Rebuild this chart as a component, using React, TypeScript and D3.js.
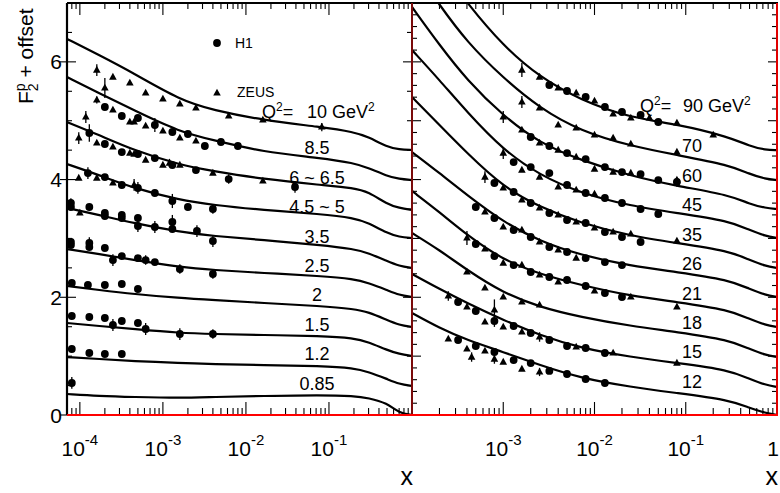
import React from "react";
import * as d3 from "d3";

const FONT = "'Liberation Sans', Arial, Helvetica, sans-serif";

// ---------------- data ----------------
// Left panel: model curves (F2 + offset) sampled at these x
const leftCurveX = [7e-5, 1.7e-4, 4.4e-4, 1.6e-3, 4e-3, 0.016, 0.08, 0.2, 0.3, 0.5, 0.7, 1];
const leftCurveY = [
  [6.39, 6.116, 5.81, 5.352, 5.18, 5.01, 4.893, 4.808, 4.723, 4.553, 4.511, 4.502],
  [5.742, 5.471, 5.182, 4.808, 4.672, 4.468, 4.366, 4.281, 4.196, 4.06, 4.009, 3.992],
  [4.978, 4.757, 4.502, 4.247, 4.145, 4.009, 3.908, 3.857, 3.789, 3.585, 3.517, 3.483],
  [4.264, 4.077, 3.857, 3.653, 3.568, 3.483, 3.415, 3.347, 3.262, 3.092, 3.024, 3.007],
  [3.517, 3.398, 3.262, 3.109, 3.041, 2.973, 2.888, 2.82, 2.752, 2.616, 2.531, 2.497],
  [2.82, 2.735, 2.633, 2.514, 2.463, 2.413, 2.362, 2.311, 2.243, 2.124, 2.039, 2.005],
  [2.192, 2.124, 2.056, 1.988, 1.954, 1.903, 1.852, 1.801, 1.75, 1.614, 1.529, 1.495],
  [1.563, 1.512, 1.461, 1.393, 1.376, 1.359, 1.342, 1.308, 1.24, 1.104, 1.036, 1.002],
  [0.985, 0.951, 0.917, 0.883, 0.866, 0.849, 0.832, 0.798, 0.731, 0.612, 0.527, 0.493],
  [0.357, 0.323, 0.306, 0.289, 0.306, 0.323, 0.34, 0.323, 0.289, 0.204, 0.034, 0],
];
const leftOffsets = [4.5, 4, 3.5, 3, 2.5, 2, 1.5, 1, 0.5, 0];
const leftLabels = ["10", "8.5", "6 ~ 6.5", "4.5 ~ 5", "3.5", "2.5", "2", "1.5", "1.2", "0.85"];

// Right panel curves
const rightCurveX = [1e-4, 2e-4, 4e-4, 1e-3, 2.5e-3, 7e-3, 0.025, 0.08, 0.3, 0.5, 0.75, 1];
const rightCurveY = [
  [8.325, 7.645, 7.0, 6.269, 5.742, 5.352, 5.046, 4.944, 4.723, 4.57, 4.502, 4.502],
  [7.645, 6.966, 6.337, 5.725, 5.216, 4.825, 4.57, 4.417, 4.247, 4.094, 4.009, 3.992],
  [6.932, 6.286, 5.691, 5.08, 4.621, 4.332, 4.06, 3.891, 3.738, 3.585, 3.517, 3.5],
  [6.201, 5.691, 5.148, 4.502, 4.077, 3.772, 3.551, 3.432, 3.296, 3.143, 3.041, 3.007],
  [5.403, 4.927, 4.451, 3.874, 3.534, 3.262, 3.041, 2.922, 2.786, 2.633, 2.531, 2.497],
  [4.468, 4.111, 3.738, 3.279, 2.956, 2.718, 2.531, 2.43, 2.294, 2.141, 2.039, 2.005],
  [3.806, 3.449, 3.058, 2.633, 2.396, 2.209, 2.022, 1.92, 1.784, 1.631, 1.529, 1.495],
  [3.092, 2.803, 2.463, 2.073, 1.835, 1.665, 1.512, 1.41, 1.274, 1.121, 1.019, 0.985],
  [2.396, 2.141, 1.903, 1.614, 1.359, 1.138, 0.985, 0.883, 0.765, 0.612, 0.51, 0.476],
  [1.733, 1.478, 1.274, 1.07, 0.849, 0.629, 0.476, 0.374, 0.255, 0.119, 0.034, 0],
];
const rightOffsets = [4.5, 4, 3.5, 3, 2.5, 2, 1.5, 1, 0.5, 0];
const rightLabels = ["90", "70", "60", "45", "35", "26", "21", "18", "15", "12"];

// Measurements: [x, F2 + offset, error]
const leftH1 = [
  [2e-4, 5.233, 0], [3.2e-4, 5.08, 0], [5e-4, 5.046, 0], [8e-4, 4.927, 0.12], [1.3e-3, 4.808, 0], [2e-3, 4.774, 0], [3.2e-3, 4.57, 0], [5e-3, 4.638, 0], [8e-3, 4.57, 0],
  [1.3e-4, 4.791, 0.15], [2e-4, 4.604, 0], [3.2e-4, 4.468, 0], [5e-4, 4.434, 0], [8e-4, 4.366, 0], [1.3e-3, 4.247, 0], [2.5e-3, 4.162, 0], [6.2e-3, 4.009, 0.08], [0.039, 3.874, 0.1],
  [1.25e-4, 4.111, 0.1], [2e-4, 4.043, 0], [3.2e-4, 3.908, 0], [5e-4, 3.857, 0.1], [8e-4, 3.772, 0], [1.3e-3, 3.636, 0.12], [2e-3, 3.534, 0], [4e-3, 3.5, 0.08],
  [7.8e-5, 3.602, 0.08], [7.8e-5, 3.534, 0], [1.3e-4, 3.534, 0], [2e-4, 3.432, 0], [2e-4, 3.381, 0], [3.2e-4, 3.398, 0], [3.2e-4, 3.347, 0], [5e-4, 3.347, 0], [5e-4, 3.211, 0.1], [8e-4, 3.194, 0.1], [1.3e-3, 3.279, 0.12], [1.3e-3, 3.16, 0], [2.57e-3, 3.126, 0.1], [4e-3, 2.956, 0.1],
  [7.8e-5, 2.939, 0], [7.8e-5, 2.888, 0], [1.3e-4, 2.922, 0.1], [1.3e-4, 2.854, 0], [2e-4, 2.837, 0], [2.5e-4, 2.633, 0.1], [3.2e-4, 2.701, 0], [5e-4, 2.667, 0], [6.2e-4, 2.633, 0.08], [8e-4, 2.599, 0], [1.6e-3, 2.48, 0.08], [4e-3, 2.396, 0.08],
  [8e-5, 2.243, 0], [1.25e-4, 2.209, 0], [2e-4, 2.209, 0], [3.2e-4, 2.226, 0], [5e-4, 2.141, 0],
  [8e-5, 1.682, 0], [1.3e-4, 1.665, 0], [2e-4, 1.648, 0], [2.5e-4, 1.529, 0.1], [3.2e-4, 1.597, 0], [5e-4, 1.563, 0], [6.2e-4, 1.461, 0.1], [1.6e-3, 1.376, 0.1], [4e-3, 1.376, 0.08],
  [8e-5, 1.121, 0], [1.3e-4, 1.053, 0], [2e-4, 1.036, 0], [3.2e-4, 1.036, 0],
  [8e-5, 0.544, 0.1],
];
const leftZeus = [
  [1.6e-4, 5.861, 0.1], [2.5e-4, 5.742, 0], [4e-4, 5.641, 0], [6.2e-4, 5.471, 0], [1e-3, 5.369, 0], [1.6e-3, 5.284, 0], [2.5e-3, 5.216, 0], [6.2e-3, 5.08, 0], [0.016, 5.012, 0], [0.082, 4.893, 0.07],
  [2e-4, 5.556, 0.17], [1.6e-4, 5.352, 0.06], [2.5e-4, 5.182, 0], [4e-4, 4.978, 0], [4.5e-4, 4.978, 0], [6.2e-4, 4.91, 0], [1e-3, 4.825, 0], [1.6e-3, 4.706, 0], [2.5e-3, 4.655, 0],
  [9.7e-5, 4.706, 0.1], [1.18e-4, 5.063, 0.1], [1.6e-4, 4.621, 0], [2.5e-4, 4.553, 0], [4e-4, 4.451, 0], [4.5e-4, 4.434, 0], [6.2e-4, 4.332, 0], [1e-3, 4.247, 0], [1.2e-3, 4.281, 0.07], [1.6e-3, 4.247, 0], [4e-3, 4.111, 0], [0.016, 3.976, 0],
  [9.7e-5, 4.026, 0], [1.6e-4, 4.026, 0], [2.5e-4, 3.942, 0], [4.5e-4, 3.908, 0.1],
  [1e-4, 3.432, 0],
];
const rightH1 = [
  [3.2e-3, 5.607, 0], [5e-3, 5.505, 0], [8e-3, 5.403, 0], [0.013, 5.233, 0], [0.02, 5.148, 0], [0.032, 5.097, 0], [0.05, 4.978, 0],
  [2e-3, 4.723, 0], [3.2e-3, 4.57, 0], [5e-3, 4.451, 0], [8e-3, 4.349, 0], [0.013, 4.213, 0], [0.02, 4.128, 0], [0.032, 4.094, 0], [0.05, 3.992, 0], [0.08, 3.959, 0.08],
  [1.3e-3, 4.298, 0], [2e-3, 4.213, 0], [3.2e-3, 4.111, 0], [5e-3, 3.908, 0], [8e-3, 3.772, 0], [0.013, 3.687, 0], [0.02, 3.602, 0], [0.032, 3.5, 0], [0.05, 3.415, 0],
  [8e-4, 3.942, 0], [1.3e-3, 3.789, 0], [2e-3, 3.602, 0], [3.2e-3, 3.432, 0], [5e-3, 3.313, 0], [8e-3, 3.262, 0], [0.013, 3.109, 0], [0.02, 3.024, 0], [0.032, 2.939, 0],
  [5e-4, 3.534, 0], [8e-4, 3.347, 0], [1.3e-3, 3.143, 0], [2e-3, 3.024, 0], [3.2e-3, 2.854, 0], [5e-3, 2.769, 0], [8e-3, 2.667, 0], [0.013, 2.599, 0], [0.02, 2.548, 0],
  [5e-4, 2.905, 0], [8e-4, 2.701, 0], [1.3e-3, 2.548, 0], [2e-3, 2.43, 0], [3.2e-3, 2.345, 0], [5e-3, 2.294, 0], [8e-3, 2.192, 0], [0.013, 2.073, 0], [0.02, 2.005, 0],
  [3.2e-4, 1.92, 0], [5e-4, 1.767, 0], [8e-4, 1.597, 0.1], [1.3e-3, 1.512, 0], [2e-3, 1.393, 0], [3.2e-3, 1.274, 0], [5e-3, 1.172, 0], [8e-3, 1.138, 0], [0.013, 1.053, 0],
  [3.2e-4, 1.274, 0], [5e-4, 1.172, 0], [8e-4, 1.07, 0], [1.3e-3, 0.934, 0], [2e-3, 0.883, 0], [3.2e-3, 0.748, 0], [5e-3, 0.697, 0], [8e-3, 0.612, 0], [0.013, 0.544, 0],
];
const rightZeus = [
  [1.6e-3, 5.861, 0.12], [2.5e-3, 5.742, 0], [4e-3, 5.556, 0], [6.3e-3, 5.471, 0], [0.01, 5.335, 0], [0.016, 5.114, 0], [0.025, 5.046, 0], [0.04, 5.046, 0], [0.08, 4.961, 0], [0.2, 4.757, 0],
  [1.6e-3, 5.318, 0.1], [2.5e-3, 5.216, 0], [4e-3, 4.927, 0], [6.3e-3, 4.876, 0], [0.01, 4.757, 0], [0.016, 4.706, 0], [0.025, 4.604, 0], [0.08, 4.468, 0],
  [1e-3, 5.063, 0.1], [1.6e-3, 4.842, 0], [2.5e-3, 4.621, 0], [4e-3, 4.502, 0], [6.3e-3, 4.383, 0], [0.01, 4.179, 0], [0.016, 4.128, 0], [0.025, 4.111, 0], [0.08, 3.992, 0],
  [1e-3, 4.451, 0.1], [1.6e-3, 4.162, 0], [2.5e-3, 4.043, 0], [4e-3, 3.874, 0], [6.3e-3, 3.823, 0], [0.01, 3.755, 0],
  [6.3e-4, 4.043, 0.1], [1e-3, 3.857, 0], [1.6e-3, 3.653, 0], [2.5e-3, 3.517, 0], [4e-3, 3.398, 0], [6.3e-3, 3.279, 0], [0.01, 3.177, 0], [0.016, 3.109, 0], [0.025, 3.075, 0], [0.08, 2.956, 0],
  [6.3e-4, 3.449, 0], [1e-3, 3.194, 0], [1.6e-3, 3.143, 0], [2.5e-3, 2.939, 0], [4e-3, 2.803, 0], [6.3e-3, 2.667, 0],
  [4e-4, 3.007, 0.12], [6.3e-4, 2.82, 0], [1e-3, 2.582, 0], [1.6e-3, 2.548, 0], [2.5e-3, 2.379, 0], [4e-3, 2.26, 0], [0.01, 2.107, 0], [0.025, 2.005, 0], [0.08, 1.835, 0],
  [4e-4, 2.43, 0], [6.3e-4, 2.158, 0], [8e-4, 1.784, 0.18], [1e-3, 2.005, 0], [1.6e-3, 1.92, 0], [2.5e-3, 1.869, 0],
  [2.5e-4, 2.022, 0.08], [4e-4, 1.835, 0], [6.3e-4, 1.58, 0], [1e-3, 1.495, 0], [1.6e-3, 1.41, 0], [2.5e-3, 1.325, 0.08], [6.3e-3, 1.155, 0], [0.016, 1.053, 0], [0.08, 0.883, 0],
  [2.5e-4, 1.291, 0], [4e-4, 1.121, 0], [4.5e-4, 0.985, 0.08], [6.3e-4, 1.087, 0], [8e-4, 0.951, 0.08], [1e-3, 0.9, 0], [1.6e-3, 0.781, 0], [2.5e-3, 0.731, 0.07],
];

const yMajorLeft = [0, 2, 4, 6];
const leftXTicks = [1e-4, 1e-3, 1e-2, 1e-1];
const leftXExps = ["-4", "-3", "-2", "-1"];
const rightXTicks = [1e-3, 1e-2, 1e-1, 1];
const rightXExps = ["-3", "-2", "-1", ""];

// ---------------- layout ----------------
const TOP = 3;
const BOTTOM = 415;
const L0 = 67;
const MID = 412;
const R1 = 777;

function logTicks(domain: number[]) {
  const out: { v: number; major: boolean }[] = [];
  for (let e = -6; e <= 0; e++) {
    for (let k = 1; k <= 9; k++) {
      const v = k * Math.pow(10, e);
      if (v >= domain[0] * 0.9999 && v <= domain[1] * 1.0001) out.push({ v, major: k === 1 });
    }
  }
  return out;
}

function range(a: number, b: number, step: number) {
  const out: number[] = [];
  for (let v = a; v <= b + 1e-9; v += step) out.push(Math.round(v * 1000) / 1000);
  return out;
}

function Marker({ type, cx, cy }: { type: string; cx: number; cy: number }) {
  if (type === "circle") return <circle cx={cx} cy={cy} r={3.9} fill="#000" />;
  return (
    <path
      d={`M${cx},${cy - 4.3}L${cx + 3.8},${cy + 2.6}L${cx - 3.8},${cy + 2.6}Z`}
      fill="#000"
    />
  );
}

export default function App() {
  const y = d3.scaleLinear().domain([0, 7]).range([BOTTOM, TOP]);
  const xL = d3.scaleLog().domain([7e-5, 1]).range([L0, MID]);
  const xR = d3.scaleLog().domain([1e-4, 1]).range([MID, R1]);

  const lineL = d3
    .line<number>()
    .x((_, i) => xL(leftCurveX[i]))
    .y((d) => y(d))
    .curve(d3.curveBasis);
  const lineR = d3
    .line<number>()
    .x((_, i) => xR(rightCurveX[i]))
    .y((d) => y(d))
    .curve(d3.curveBasis);

  const renderPoints = (pts: number[][], xs: any, type: string, key: string) =>
    pts.map((p, i) => {
      const cx = xs(p[0]);
      const cy = y(p[1]);
      return (
        <g key={key + i}>
          {p[2] > 0 && (
            <line x1={cx} x2={cx} y1={y(p[1] - p[2])} y2={y(p[1] + p[2])} stroke="#000" strokeWidth={1.3} />
          )}
          <Marker type={type} cx={cx} cy={cy} />
        </g>
      );
    });

  const tickStroke = "#000";
  const ticksL = logTicks([7e-5, 1]);
  const ticksR = logTicks([1e-4, 1]);
  const leftMinorY = range(0, 7, 0.5);
  const rightMinorY = range(0, 7, 0.2);
  const rightMajorY = range(0, 7, 1);

  const supText = (base: string, exp: string, x: number, key: string) => (
    <text key={key} x={x} y={456} textAnchor="middle" fontSize={21} fontFamily={FONT} fill="#000">
      {base}
      {exp && (
        <tspan fontSize={15} dy={-11}>
          {exp}
        </tspan>
      )}
    </text>
  );

  return (
    <svg
      width={780}
      height={493}
      style={{ position: "absolute", left: 0, top: 0, background: "#fff" }}
      fontFamily={FONT}
    >
      <rect x={0} y={0} width={780} height={493} fill="#fff" />
      <defs>
        <clipPath id="clipL">
          <rect x={L0} y={TOP} width={MID - L0} height={BOTTOM - TOP} />
        </clipPath>
        <clipPath id="clipR">
          <rect x={MID} y={TOP} width={R1 - MID} height={BOTTOM - TOP} />
        </clipPath>
      </defs>

      {/* left panel curves */}
      <g clipPath="url(#clipL)">
        {leftCurveY.map((c, i) => (
          <path key={"cl" + i} d={lineL(c) || ""} fill="none" stroke="#000" strokeWidth={2.2} />
        ))}
        {renderPoints(leftH1, xL, "circle", "lh")}
        {renderPoints(leftZeus, xL, "tri", "lz")}
      </g>
      {/* right panel curves */}
      <g clipPath="url(#clipR)">
        {rightCurveY.map((c, i) => (
          <path key={"cr" + i} d={lineR(c) || ""} fill="none" stroke="#000" strokeWidth={2.2} />
        ))}
        {renderPoints(rightH1, xR, "circle", "rh")}
        {renderPoints(rightZeus, xR, "tri", "rz")}
      </g>

      {/* curve labels */}
      {leftLabels.map((t, i) =>
        i === 0 ? (
          <text key="ll0" x={262} y={y(leftOffsets[0] + 0.546)} fontSize={18} fill="#000">
            Q
            <tspan fontSize={12} dy={-7}>2</tspan>
            <tspan dy={7}>=</tspan>
            <tspan x={307}>{t} GeV</tspan>
            <tspan fontSize={12} dy={-7}>2</tspan>
          </text>
        ) : (
          <text
            key={"ll" + i}
            x={xL(0.0716)}
            y={y(leftOffsets[i] + 0.43)}
            fontSize={18}
            textAnchor="middle"
            fill="#000"
            style={{ whiteSpace: "pre" }}
          >
            {t}
          </text>
        )
      )}
      {rightLabels.map((t, i) =>
        i === 0 ? (
          <text key="rl0" x={640} y={y(rightOffsets[0] + 0.648)} fontSize={18} fill="#000">
            Q
            <tspan fontSize={12} dy={-7}>2</tspan>
            <tspan dy={7}>=</tspan>
            <tspan x={683}>{t} GeV</tspan>
            <tspan fontSize={12} dy={-7}>2</tspan>
          </text>
        ) : (
          <text
            key={"rl" + i}
            x={xR(0.117)}
            y={y(rightOffsets[i] + 0.46)}
            fontSize={18}
            textAnchor="middle"
            fill="#000"
          >
            {t}
          </text>
        )
      )}

      {/* legend */}
      <circle cx={217} cy={43} r={3.9} fill="#000" />
      <text x={235} y={48} fontSize={14} fill="#000">H1</text>
      <Marker type="tri" cx={217} cy={93} />
      <text x={237} y={97} fontSize={14} fill="#000">ZEUS</text>

      {/* ticks: bottom & top */}
      {ticksL.map((t, i) => (
        <g key={"tl" + i}>
          <line x1={xL(t.v)} x2={xL(t.v)} y1={BOTTOM} y2={BOTTOM - (t.major ? 13 : 7)} stroke={tickStroke} strokeWidth={1.1} />
          <line x1={xL(t.v)} x2={xL(t.v)} y1={TOP} y2={TOP + (t.major ? 12 : 6)} stroke={tickStroke} strokeWidth={1.1} />
        </g>
      ))}
      {ticksR.map((t, i) => (
        <g key={"tr" + i}>
          <line x1={xR(t.v)} x2={xR(t.v)} y1={BOTTOM} y2={BOTTOM - (t.major ? 13 : 7)} stroke={tickStroke} strokeWidth={1.1} />
          <line x1={xR(t.v)} x2={xR(t.v)} y1={TOP} y2={TOP + (t.major ? 12 : 6)} stroke={tickStroke} strokeWidth={1.1} />
        </g>
      ))}
      {/* y ticks left panel */}
      {leftMinorY.map((v, i) => {
        const major = yMajorLeft.includes(v);
        return (
          <g key={"yl" + i}>
            <line x1={major ? L0 - 7 : L0} x2={L0 + (major ? 9 : 5)} y1={y(v)} y2={y(v)} stroke={tickStroke} strokeWidth={1.1} />
            <line x1={MID} x2={MID - (major ? 9 : 5)} y1={y(v)} y2={y(v)} stroke={tickStroke} strokeWidth={1.1} />
          </g>
        );
      })}
      {/* y ticks right panel */}
      {rightMinorY.map((v, i) => {
        const major = rightMajorY.includes(v);
        return (
          <g key={"yr" + i}>
            <line x1={MID} x2={MID + (major ? 9 : 5)} y1={y(v)} y2={y(v)} stroke={tickStroke} strokeWidth={1.1} />
            <line x1={R1} x2={R1 - (major ? 9 : 5)} y1={y(v)} y2={y(v)} stroke={tickStroke} strokeWidth={1.1} />
          </g>
        );
      })}

      {/* frame */}
      <line x1={L0} x2={R1 + 1} y1={TOP} y2={TOP} stroke="#000" strokeWidth={2.2} />
      <line x1={L0} x2={L0} y1={TOP} y2={BOTTOM} stroke="#000" strokeWidth={2.2} />
      <line x1={MID} x2={MID} y1={TOP} y2={BOTTOM} stroke="#7a0a0a" strokeWidth={2} />
      <line x1={R1} x2={R1} y1={TOP} y2={BOTTOM} stroke="#e00000" strokeWidth={2} />
      <line x1={L0} x2={R1 + 1} y1={BOTTOM} y2={BOTTOM} stroke="#ff0000" strokeWidth={2} />

      {/* y tick labels */}
      {yMajorLeft.map((v) => (
        <text key={"ylab" + v} x={62} y={y(v)} dy="0.36em" textAnchor="end" fontSize={21} fill="#000">
          {v}
        </text>
      ))}
      {/* x tick labels */}
      {leftXTicks.map((v, i) => supText("10", leftXExps[i], xL(v), "xl" + i))}
      {rightXTicks.map((v, i) => supText(v === 1 ? "1" : "10", rightXExps[i], xR(v) - (v === 1 ? 4 : 0), "xr" + i))}

      {/* axis titles */}
      <text x={413} y={485} textAnchor="end" fontSize={25} fill="#000">x</text>
      <text x={778} y={485} textAnchor="end" fontSize={25} fill="#000">x</text>
      <text transform="translate(33,104) rotate(-90)" fontSize={21} fill="#000" style={{ whiteSpace: "pre" }}>
        F
        <tspan fontSize={14} dy={5}>2</tspan>
        <tspan fontSize={14} dx={-7.8} dy={-13}>p</tspan>
        <tspan fontSize={21} dy={8}> + offset</tspan>
      </text>
    </svg>
  );
}
